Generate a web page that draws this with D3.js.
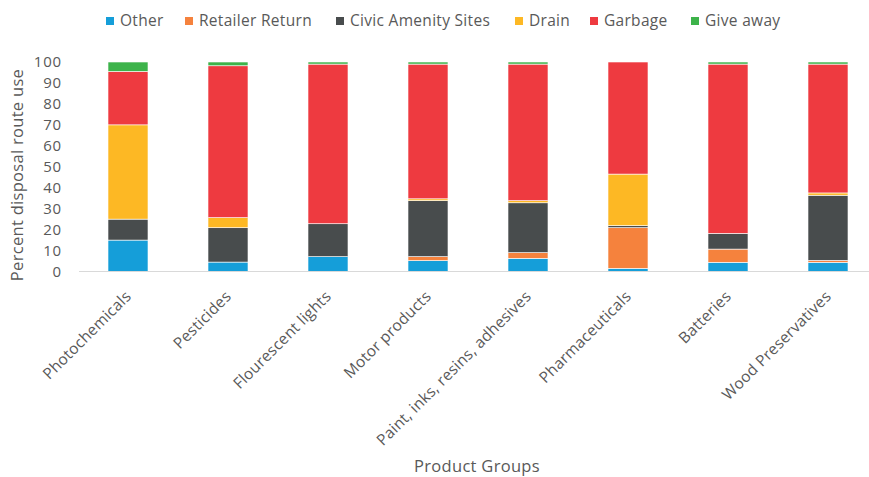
<!DOCTYPE html>
<html>
<head>
<meta charset="utf-8">
<script src="https://cdn.jsdelivr.net/npm/d3@7/dist/d3.min.js"></script>
<style>
  html, body { margin: 0; padding: 0; background: #fff; }
  svg { display: block; }
  text { font-family: "Open Sans", "DejaVu Sans", sans-serif; fill: #595959; }
</style>
</head>
<body>
<svg id="chart" width="869" height="477"></svg>
<script>
// ---- data ----
const categories = ["Photochemicals", "Pesticides", "Flourescent lights", "Motor products",
  "Paint, inks, resins, adhesives", "Pharmaceuticals", "Batteries", "Wood Preservatives"];
const seriesNames = ["Other", "Retailer Return", "Civic Amenity Sites", "Drain", "Garbage", "Give away"];
const other          = [15.0, 4.5, 7.1, 5.2, 6.3, 1.5, 4.4, 4.4];
const retailerReturn = [0.0, 0.0, 0.0, 1.9, 2.7, 19.4, 6.3, 0.9];
const civicAmenity   = [10.0, 16.4, 15.7, 26.7, 23.8, 1.0, 7.5, 31.1];
const drain          = [45.0, 4.8, 0.0, 0.9, 1.0, 24.6, 0.0, 1.1];
const garbage        = [25.5, 72.5, 76.2, 64.3, 65.2, 53.5, 80.8, 61.5];
const giveAway       = [4.5, 1.8, 1.0, 1.0, 1.0, 0.0, 1.0, 1.0];
const yTicks = [0, 10, 20, 30, 40, 50, 60, 70, 80, 90, 100];
const colors = ["#159ed9", "#f5823d", "#484c4d", "#fdb824", "#ee3a40", "#3db34a"];

const seriesValues = [other, retailerReturn, civicAmenity, drain, garbage, giveAway];
const rows = categories.map((c, i) => {
  const r = { category: c };
  seriesNames.forEach((s, j) => { r[s] = seriesValues[j][i]; });
  return r;
});

const svg = d3.select("#chart");
const x = d3.scaleBand().domain(categories).range([78, 878]).paddingInner(0.6).paddingOuter(0.3);
const y = d3.scaleLinear().domain([0, 100]).range([271.5, 62]);
const color = d3.scaleOrdinal().domain(seriesNames).range(colors);

const stacked = d3.stack().keys(seriesNames)(rows);

// bars
svg.append("g").selectAll("g").data(stacked).join("g")
  .attr("fill", d => color(d.key))
  .selectAll("rect").data(d => d).join("rect")
  .attr("x", d => x(d.data.category))
  .attr("width", x.bandwidth())
  .attr("y", d => y(d[1]))
  .attr("height", d => Math.max(0, y(d[0]) - y(d[1])))
  .attr("stroke", "#ffffff")
  .attr("stroke-width", 0.6);

// x axis
const xAxis = svg.append("g").attr("transform", "translate(0,271.5)")
  .call(d3.axisBottom(x).tickSize(0).tickPadding(0));
xAxis.select(".domain").attr("stroke", "#d9d9d9").attr("stroke-width", 1.2).attr("d", "M79,0H869");
xAxis.selectAll(".tick text")
  .attr("font-size", 15.5)
  .attr("letter-spacing", 0.2)
  .attr("fill", "#595959")
  .attr("text-anchor", "end")
  .attr("dy", "0")
  .attr("transform", "translate(4,26) rotate(-45)");

// y axis
const yAxis = svg.append("g").attr("transform", "translate(62,0)")
  .call(d3.axisLeft(y).tickValues(yTicks).tickSize(0).tickPadding(0));
yAxis.select(".domain").remove();
yAxis.selectAll(".tick text").attr("font-size", 15).attr("letter-spacing", 0.8).attr("fill", "#595959");

// axis titles
svg.append("text")
  .attr("transform", "translate(23,175) rotate(-90)")
  .attr("text-anchor", "middle")
  .attr("font-size", 16.5)
  .attr("letter-spacing", 0.3)
  .text("Percent disposal route use");
svg.append("text")
  .attr("x", 477).attr("y", 472)
  .attr("text-anchor", "middle")
  .attr("font-size", 16.5)
  .attr("letter-spacing", 0.3)
  .text("Product Groups");

// legend
const legendX = [106, 185, 336, 515, 590, 691];
const legend = svg.append("g").selectAll("g").data(seriesNames).join("g")
  .attr("transform", (d, i) => `translate(${legendX[i]},21)`);
legend.append("rect").attr("x", 0).attr("y", -4).attr("width", 8).attr("height", 8)
  .attr("fill", d => color(d));
legend.append("text").attr("x", 14).attr("dy", "0.35em").attr("font-size", 15.5)
  .attr("letter-spacing", 0.3).text(d => d);
</script>
</body>
</html>
